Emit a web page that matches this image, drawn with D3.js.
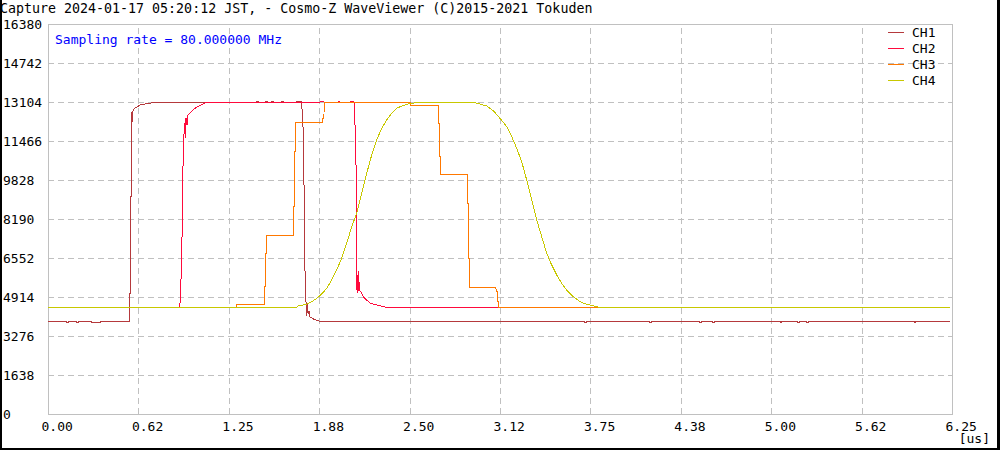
<!DOCTYPE html>
<html><head><meta charset="utf-8">
<script src="https://cdn.jsdelivr.net/npm/d3@7"></script>
<style>
html,body{margin:0;padding:0;background:#fff;}
svg{display:block;}
text{font-family:"DejaVu Sans Mono",monospace;}
</style></head>
<body>
<svg id="c" width="1000" height="450"></svg>
<script>
// ---- data ----
const titleText = "Capture 2024-01-17 05:20:12 JST, - Cosmo-Z WaveViewer (C)2015-2021 Tokuden";
const infoText = "Sampling rate = 80.000000 MHz";
const channels = ["CH1","CH2","CH3","CH4"];
const colors = ["#b5393c","#ff0a3c","#ff7800","#c8c800"];
const xTicks = [0,0.625,1.25,1.875,2.5,3.125,3.75,4.375,5,5.625,6.25];
const xTickLabels = ["0.00","0.62","1.25","1.88","2.50","3.12","3.75","4.38","5.00","5.62","6.25"];
const yTicks = [0,1638,3276,4914,6552,8190,9828,11466,13104,14742,16380];
const yTickLabels = ["0","1638","3276","4914","6552","8190","9828","11466","13104","14742","16380"];
const xUnit = "[us]";

// [time us, value]
const ch1 = [
 [0,3906],[0.129,3906],[0.130,3850],[0.140,3850],[0.141,3906],[0.198,3906],[0.199,3850],[0.209,3850],[0.210,3906],
 [0.302,3906],[0.303,3850],[0.360,3850],[0.361,3906],
 [0.562,3906],[0.563,5082],[0.572,5082],[0.573,9156],[0.579,9156],[0.580,12684],[0.584,12264],[0.588,12768],
 [0.601,12852],[0.615,12894],[0.636,12978],[0.691,13049],[0.754,13091],
 [1.443,13091],[1.444,13133],[1.452,13133],[1.453,13091],
 [1.505,13091],[1.506,13133],[1.514,13133],[1.515,13091],
 [1.547,13091],[1.548,13133],[1.556,13133],[1.557,13091],
 [1.611,13091],[1.612,13133],[1.630,13133],[1.631,13091],
 [1.720,13091],[1.721,13133],[1.749,13133],
 [1.753,13091],[1.758,12684],[1.765,11844],[1.770,9618],[1.777,5964],[1.784,4662],[1.789,4116],[1.793,4620],
 [1.798,4200],[1.804,4326],[1.811,4074],[1.839,3977],[1.874,3906],
 [3.708,3906],[3.709,3850],[3.720,3850],[3.721,3906],
 [4.157,3906],[4.158,3850],[4.170,3850],[4.171,3906],
 [4.503,3906],[4.504,3850],[4.516,3850],[4.517,3906],
 [4.595,3906],[4.596,3850],[4.608,3850],[4.609,3906],
 [5.061,3906],[5.062,3850],[5.074,3850],[5.075,3906],
 [5.183,3906],[5.184,3850],[5.196,3850],[5.197,3906],
 [5.245,3906],[5.246,3850],[5.258,3850],[5.259,3906],
 [5.987,3906],[5.988,3850],[6.000,3850],[6.001,3906],
 [6.2375,3906]
];
const ch2 = [
 [0,4494],[0.908,4494],[0.913,4662],[0.924,6342],[0.935,11088],[0.944,12222],[0.949,11592],[0.954,12432],
 [0.961,12138],[0.968,12558],[0.982,12642],[1.002,12768],[1.030,12894],[1.072,13020],[1.099,13091],
 [1.880,13091],[1.881,13133],[1.908,13133],[1.909,13091],
 [2.005,13091],[2.006,13133],[2.014,13133],[2.015,13091],
 [2.093,13091],[2.094,13133],[2.111,13133],
 [2.119,13091],[2.122,12222],[2.129,11004],[2.134,5208],[2.138,5838],[2.143,5082],[2.148,6006],[2.152,5208],
 [2.169,5082],[2.180,4914],[2.203,4788],[2.226,4662],[2.272,4578],[2.330,4494],[6.2375,4494]
];
const ch3 = [
 [0,4494],[1.300,4494],[1.301,4607],[1.4954,4607],[1.496,5347],[1.502,5347],[1.503,6749],[1.512,6749],[1.513,7518],
 [1.696,7518],[1.697,8707],[1.703,8707],[1.704,11017],[1.710,11017],[1.711,12251],[1.8965,12251],[1.897,12419],
 [1.908,12419],[1.909,13091],[2.503,13091],[2.504,12978],[2.698,12978],[2.699,12209],[2.705,12209],[2.706,10807],
 [2.712,10807],[2.713,10080],[2.899,10080],[2.900,8849],[2.906,8849],[2.907,6539],[2.913,6539],[2.914,5321],
 [3.097,5321],[3.098,5137],[3.106,5137],[3.107,4717],[3.113,4717],[3.114,4494],[6.2375,4494]
];
const ch4 = [
 [0,4494],[1.720,4494],[1.7305,4536],[1.7886,4607],[1.8232,4717],[1.8577,4859],[1.8923,5040],[1.9268,5279],
 [1.9614,5628],[1.9960,6048],[2.0305,6539],[2.0651,7169],[2.0997,7867],[2.1343,8429],[2.1688,9269],[2.2034,10109],
 [2.2380,10878],[2.2725,11508],[2.3071,11999],[2.3417,12348],[2.3762,12629],[2.4108,12839],[2.4454,12936],
 [2.4799,13007],[2.5145,13049],[2.5719,13091],[2.9404,13091],[2.9867,13020],[3.0330,12936],[3.0787,12739],
 [3.1250,12419],[3.1713,12067],[3.2059,11647],[3.2405,11159],[3.2750,10597],[3.3096,9828],[3.3442,8988],
 [3.3787,8148],[3.4133,7447],[3.4479,6749],[3.4824,6258],[3.5170,5838],[3.5516,5489],[3.5861,5208],[3.6318,4927],
 [3.6781,4717],[3.7244,4607],[3.7936,4507],[3.80,4494],[6.2375,4494]
];
const series = [ch1,ch2,ch3,ch4];

// ---- drawing ----
const svg = d3.select("#c");
const L=48, R=952, T=24, B=414;
const x = d3.scaleLinear().domain([0,6.25]).range([L,R]);
const y = d3.scaleLinear().domain([0,16380]).range([B,T]);

// frame
svg.append("rect").attr("x",0).attr("y",0).attr("width",2).attr("height",450).attr("fill","#000");
svg.append("rect").attr("x",997).attr("y",0).attr("width",3).attr("height",450).attr("fill","#000");
svg.append("rect").attr("x",0).attr("y",448).attr("width",1000).attr("height",2).attr("fill","#000");

// grid + axes
const gy = svg.append("g").attr("transform",`translate(${L},0)`)
  .call(d3.axisLeft(y).tickValues(yTicks).tickSize(-(R-L)).tickFormat((d,i)=>yTickLabels[i]));
gy.select(".domain").remove();
gy.selectAll(".tick line").attr("stroke","#c0c0c0").attr("stroke-dasharray","6,4").attr("shape-rendering","crispEdges");
gy.selectAll(".tick text").attr("x",3-L).attr("text-anchor","start").attr("dy","0.35em")
  .attr("font-size","13px").attr("font-family","DejaVu Sans Mono").attr("fill","#000");

const gx = svg.append("g").attr("transform",`translate(0,${B})`)
  .call(d3.axisBottom(x).tickValues(xTicks).tickSize(-(B-T)).tickFormat((d,i)=>xTickLabels[i]));
gx.select(".domain").remove();
gx.selectAll(".tick line").attr("stroke","#c0c0c0").attr("stroke-dasharray","6,4").attr("shape-rendering","crispEdges");
gx.selectAll(".tick text").attr("x",-7).attr("y",12).attr("dy","0.35em").attr("text-anchor","start")
  .attr("font-size","13px").attr("font-family","DejaVu Sans Mono").attr("fill","#000");

svg.append("rect").attr("x",L+0.5).attr("y",T+0.5).attr("width",R-L).attr("height",B-T)
  .attr("fill","none").attr("stroke","#c0c0c0").attr("shape-rendering","crispEdges");

svg.append("text").attr("x",990).attr("y",438).attr("dy","0.35em").attr("text-anchor","end")
  .attr("font-size","13px").text(xUnit);

// lines
const line = d3.line().x(d=>x(d[0])).y(d=>y(d[1]));
series.forEach((s,i)=>{
  svg.append("path").datum(s).attr("d",line).attr("fill","none")
    .attr("stroke",colors[i]).attr("stroke-width",1).attr("shape-rendering","crispEdges");
});

// legend
const lg = svg.append("g");
channels.forEach((c,i)=>{
  const yy = 32.5 + i*16;
  lg.append("line").attr("x1",888).attr("x2",904).attr("y1",yy).attr("y2",yy)
    .attr("stroke",colors[i]).attr("shape-rendering","crispEdges");
  lg.append("text").attr("x",912).attr("y",yy).attr("dy","0.35em").attr("font-size","13px").attr("fill","#000").text(c);
});

// texts
svg.append("text").attr("x",0).attr("y",13).attr("font-size","13.3px").attr("fill","#000").text(titleText);
svg.append("text").attr("x",55).attr("y",39).attr("dy","0.35em").attr("font-size","13px").attr("fill","#0000ff").text(infoText);
</script>
</body></html>
